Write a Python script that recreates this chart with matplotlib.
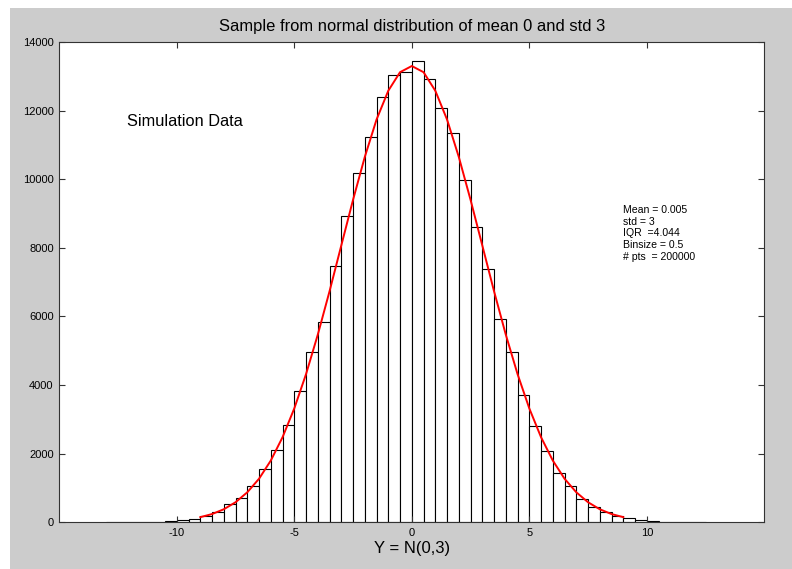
import numpy as np
import matplotlib
matplotlib.use('Agg')
import matplotlib.pyplot as plt
from matplotlib.patches import Rectangle

plt.rcParams['font.family'] = ['Liberation Sans', 'DejaVu Sans']
plt.rcParams['axes.unicode_minus'] = False

# Histograma: bins de largura 0.5 a partir de -13
inicio_bins = -13.0
binsize = 0.5
contagens = [1, 3, 5, 10, 18, 32, 60, 110, 180, 290,
             520, 715, 1060, 1540, 2110, 2850, 3835, 4975, 5832, 7468,
             8925, 10178, 11231, 12400, 13031, 13131,
             13441, 12926, 12087, 11336, 9974, 8617, 7390, 5919, 4975, 3718,
             2800, 2080, 1440, 1070, 680, 445, 290, 195, 120, 60,
             35, 18, 9, 5, 3]

# Curva ajustada, de -9 a 9 em passos de 0.5
curva_x = [-9.0, -8.5, -8.0, -7.5, -7.0, -6.5, -6.0, -5.5, -5.0, -4.5,
           -4.0, -3.5, -3.0, -2.5, -2.0, -1.5, -1.0, -0.5, 0.0, 0.5,
           1.0, 1.5, 2.0, 2.5, 3.0, 3.5, 4.0, 4.5, 5.0, 5.5,
           6.0, 6.5, 7.0, 7.5, 8.0, 8.5, 9.0]
curva_y = [150, 240, 380, 585, 875, 1270, 1800, 2480, 3320, 4320,
           5470, 6735, 8070, 9400, 10650, 11740, 12580, 13120, 13300, 13120,
           12580, 11740, 10650, 9400, 8070, 6735, 5470, 4320, 3320, 2480,
           1800, 1270, 875, 585, 380, 240, 150]

texto_stats = "Mean = 0.005\nstd = 3\nIQR  =4.044\nBinsize = 0.5\n# pts  = 200000"

fig = plt.figure(figsize=(7.92, 5.69), dpi=100, facecolor='white')
fig.patches.append(Rectangle((10 / 792, 0), 1, (569 - 8) / 569,
                             transform=fig.transFigure, facecolor='#cccccc',
                             edgecolor='none', zorder=-10))

ax = fig.add_axes([59.3 / 792, 1 - 522.3 / 569, 705 / 792, (522.3 - 42) / 569])
ax.set_facecolor('white')

bordas = inicio_bins + binsize * np.arange(len(contagens))
ax.bar(bordas, contagens, width=binsize, align='edge', facecolor='white',
       edgecolor='black', linewidth=0.8)

ax.plot(curva_x, curva_y, color='red', linewidth=1.4)

ax.set_xlim(-15, 15)
ax.set_ylim(0, 14000)
ax.set_xticks([-10, -5, 0, 5, 10])
ax.set_yticks(np.arange(0, 14001, 2000))
ax.tick_params(direction='in', length=4, width=0.8, colors='#333333',
               labelcolor='black', labelsize=8, top=True, right=True, pad=4)
for lado in ax.spines.values():
    lado.set_color('#333333')
    lado.set_linewidth(0.8)

ax.set_title('Sample from normal distribution of mean 0 and std 3',
             fontsize=11.9, pad=8)
ax.set_xlabel('Y = N(0,3)', fontsize=12, labelpad=2)

ax.text(-12.1, 11680, 'Simulation Data', fontsize=11.8, va='center')
ax.text(8.97, 9250, texto_stats, fontsize=7.6, va='top', linespacing=1.22)

fig.savefig('out.png', dpi=100, facecolor=fig.get_facecolor())
